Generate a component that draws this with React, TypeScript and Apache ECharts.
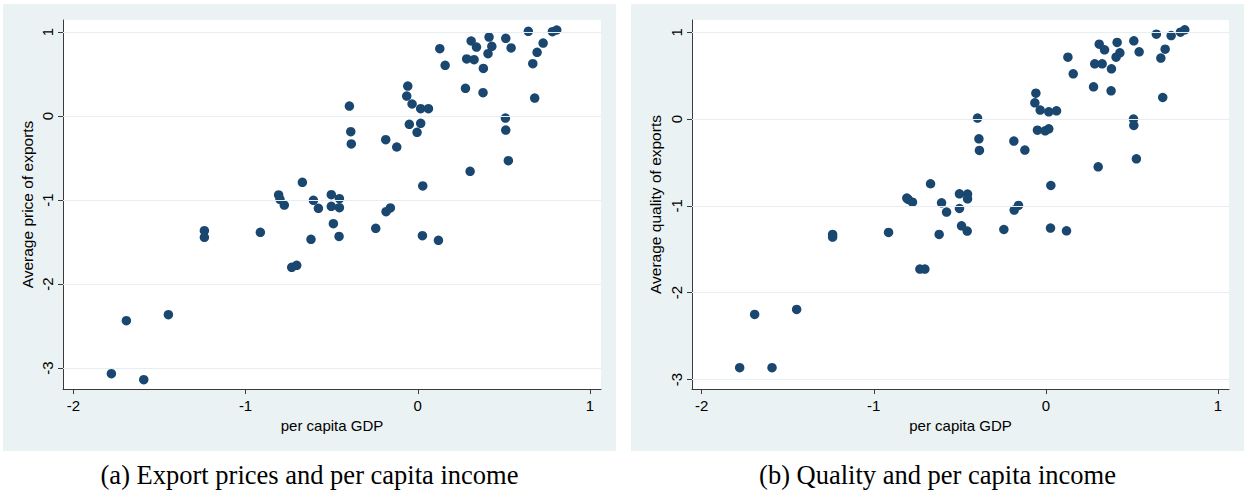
import React, { useEffect, useRef } from "react";
import * as echarts from "echarts";

// per capita GDP (same countries in both panels)
const gdp = [
  -1.779, -1.692, -1.591, -1.448, -1.239, -1.239, -0.914, -0.808, -0.800, -0.775,
  -0.732, -0.703, -0.670, -0.620, -0.606, -0.577, -0.502, -0.502, -0.490, -0.457,
  -0.455, -0.455, -0.397, -0.389, -0.386, -0.244, -0.186, -0.184, -0.159, -0.122,
  -0.064, -0.058, -0.049, -0.033, -0.004, 0.017, 0.017, 0.027, 0.029, 0.062,
  0.120, 0.128, 0.159, 0.277, 0.284, 0.304, 0.310, 0.327, 0.341, 0.379,
  0.381, 0.408, 0.414, 0.430, 0.509, 0.511, 0.511, 0.526, 0.542, 0.642,
  0.668, 0.679, 0.693, 0.728, 0.782, 0.807,
];

// (a) average price of exports
const price = [
  -3.068, -2.437, -3.139, -2.365, -1.365, -1.444, -1.385, -0.940, -0.992, -1.060,
  -1.802, -1.778, -0.790, -1.468, -1.004, -1.099, -0.937, -1.075, -1.282, -1.433,
  -0.984, -1.091, 0.119, -0.187, -0.333, -1.337, -0.282, -1.139, -1.095, -0.369,
  0.238, 0.357, -0.099, 0.143, -0.194, 0.087, -0.087, -1.425, -0.833, 0.087,
  -1.480, 0.802, 0.603, 0.329, 0.679, -0.659, 0.893, 0.671, 0.821, 0.278,
  0.567, 0.742, 0.940, 0.829, -0.024, 0.925, -0.167, -0.532, 0.810, 1.008,
  0.623, 0.214, 0.758, 0.869, 1.004, 1.024,
];

// (b) average quality of exports
const quality = [
  -2.865, -2.251, -2.865, -2.193, -1.329, -1.359, -1.306, -0.910, -0.925, -0.957,
  -1.728, -1.728, -0.745, -1.329, -0.965, -1.071, -0.861, -1.030, -1.229, -1.290,
  -0.864, -0.918, 0.012, -0.227, -0.361, -1.272, -0.253, -1.048, -0.995, -0.357,
  0.188, 0.299, -0.127, 0.104, -0.135, 0.084, -0.112, -1.256, -0.765, 0.096,
  -1.287, 0.714, 0.522, 0.372, 0.637, -0.550, 0.864, 0.637, 0.798, 0.326,
  0.580, 0.714, 0.883, 0.764, 0.000, 0.902, -0.073, -0.457, 0.775, 0.979,
  0.703, 0.249, 0.806, 0.963, 1.002, 1.029,
];

const xTicks = [-2, -1, 0, 1];
const yTicks = [-3, -2, -1, 0, 1];

const xName = "per capita GDP";
const yNames = ["Average price of exports", "Average quality of exports"];
const captions = [
  "(a) Export prices and per capita income",
  "(b) Quality and per capita income",
];

const SANS = "'Liberation Sans', Arial, sans-serif";
const SERIF = "'Liberation Serif', 'Times New Roman', serif";
const AXIS = "#3a3a3a";
const GRIDLINE = "#e6eef1";
const BG = "#eaf2f3";
const DOT = "#1a476f";

export default function App() {
  const ref = useRef<HTMLDivElement>(null);

  useEffect(() => {
    if (!ref.current) return;
    const chart = echarts.init(ref.current, undefined, { renderer: "svg" });

    const grids = [
      { left: 63, top: 20, width: 538, height: 369 },
      { left: 692, top: 20, width: 537, height: 369 },
    ];
    const yRanges = [
      [-3.25, 1.143],
      [-3.11, 1.142],
    ];
    const xRanges = [
      [-2.06, 1.064],
      [-2.056, 1.064],
    ];
    const yGaps = [28, 29];

    const mkX = (i: number) => ({
      gridIndex: i,
      type: "value",
      min: xRanges[i][0],
      max: xRanges[i][1],
      name: xName,
      nameLocation: "middle",
      nameGap: 27,
      nameTextStyle: { fontSize: 15, color: "#000", fontFamily: SANS },
      axisLine: { show: true, onZero: false, lineStyle: { color: AXIS, width: 1 } },
      axisTick: { show: true, length: 5, customValues: xTicks, lineStyle: { color: AXIS } },
      axisLabel: { customValues: xTicks, fontSize: 15, color: "#000", margin: 9, fontFamily: SANS },
      splitLine: { show: false },
    });

    const mkY = (i: number) => ({
      gridIndex: i,
      type: "value",
      min: yRanges[i][0],
      max: yRanges[i][1],
      name: yNames[i],
      nameLocation: "middle",
      nameGap: yGaps[i],
      nameTextStyle: { fontSize: 15.5, color: "#000", fontFamily: SANS },
      axisLine: { show: true, onZero: false, lineStyle: { color: AXIS, width: 1 } },
      axisTick: { show: true, length: 5, customValues: yTicks, lineStyle: { color: AXIS } },
      axisLabel: { customValues: yTicks, rotate: 90, fontSize: 15, color: "#000", margin: 8, fontFamily: SANS },
      splitLine: { show: false },
    });

    const ys = [price, quality];

    const series: any[] = [];
    [0, 1].forEach((i) => {
      series.push({
        type: "line",
        xAxisIndex: i,
        yAxisIndex: i,
        data: [],
        z: 1,
        silent: true,
        markLine: {
          silent: true,
          symbol: "none",
          label: { show: false },
          lineStyle: { color: GRIDLINE, width: 1.2, type: "solid" },
          data: yTicks.map((v) => ({ yAxis: v })),
        },
      });
      series.push({
        type: "scatter",
        xAxisIndex: i,
        yAxisIndex: i,
        z: 3,
        symbol: "circle",
        symbolSize: 9.5,
        itemStyle: { color: DOT, opacity: 1, borderWidth: 0 },
        data: gdp.map((x, k) => [x, ys[i][k]]),
      });
    });

    const option: any = {
      animation: false,
      backgroundColor: "#ffffff",
      graphic: [
        { type: "rect", z: -10, shape: { x: 3, y: 4, width: 613, height: 447 }, style: { fill: BG } },
        { type: "rect", z: -10, shape: { x: 631, y: 4, width: 613, height: 447 }, style: { fill: BG } },
        {
          type: "text",
          x: 309.5,
          y: 475,
          style: { text: captions[0], font: `26.5px ${SERIF}`, fill: "#000", textAlign: "center", textVerticalAlign: "middle" },
        },
        {
          type: "text",
          x: 937.5,
          y: 475,
          style: { text: captions[1], font: `26.5px ${SERIF}`, fill: "#000", textAlign: "center", textVerticalAlign: "middle" },
        },
      ],
      grid: grids.map((g) => ({ ...g, show: true, backgroundColor: "#ffffff", borderWidth: 0, containLabel: false })),
      xAxis: [mkX(0), mkX(1)],
      yAxis: [mkY(0), mkY(1)],
      series,
    };

    chart.setOption(option);
    return () => chart.dispose();
  }, []);

  return (
    <div
      ref={ref}
      style={{ position: "absolute", left: 0, top: 0, width: 1247, height: 493 }}
    />
  );
}
